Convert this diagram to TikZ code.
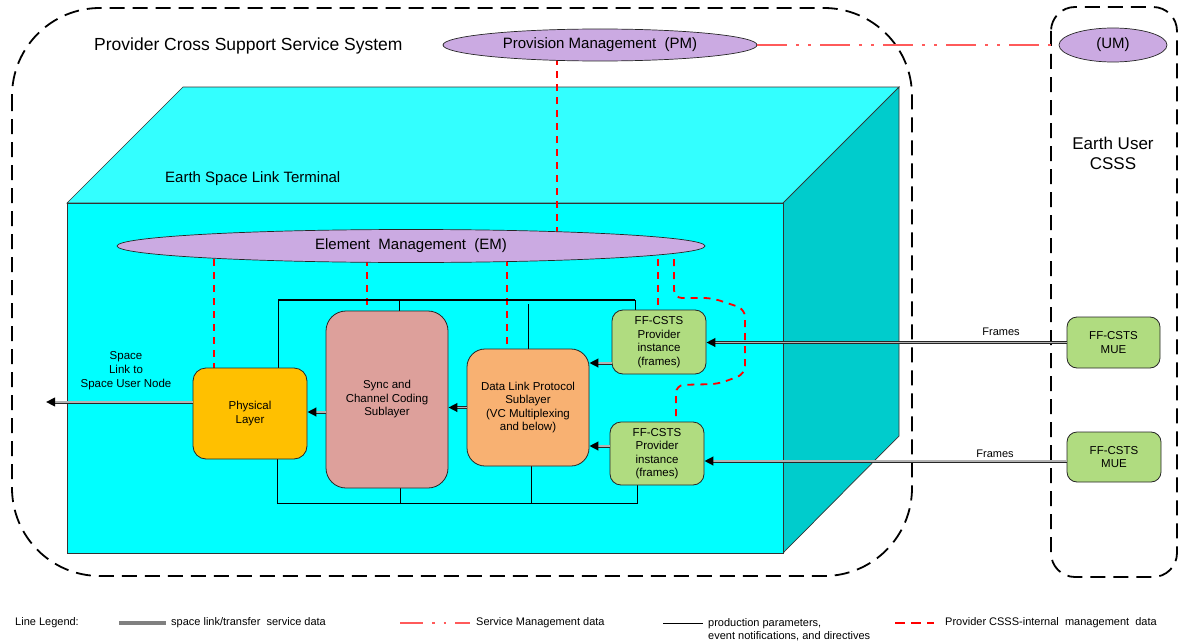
\documentclass[tikz,border=0pt]{standalone}
\usepackage{fontspec}
\setmainfont{Liberation Sans}
\usetikzlibrary{shapes.geometric,arrows.meta,decorations.markings}
\pgfdeclarelayer{back}
\pgfdeclarelayer{wires}
\pgfsetlayers{back,wires,main}

\definecolor{lilac}{RGB}{203,170,226}
\definecolor{cubefront}{RGB}{0,255,255}
\definecolor{cubetop}{RGB}{51,255,255}
\definecolor{cubeside}{RGB}{0,204,204}
\definecolor{phyfill}{RGB}{255,192,0}
\definecolor{syncfill}{RGB}{221,160,155}
\definecolor{dlpfill}{RGB}{248,177,114}
\definecolor{csgreen}{RGB}{176,220,128}
\definecolor{smred}{RGB}{255,90,90}

\begin{document}
\begin{tikzpicture}[x=1pt,y=-1pt,
  font=\fontsize{11.5}{13.5}\selectfont,
  boundary/.style={draw=black, line width=1.8pt, dash pattern=on 15pt off 8pt, rounded corners=88pt},
  cubeedge/.style={draw=black!80, line width=0.7pt},
  ell/.style={ellipse, draw=black!85, line width=0.7pt, fill=lilac, inner sep=0pt, font=\fontsize{15}{18}\selectfont},
  blk/.style={draw=black!85, line width=0.8pt, align=center, inner sep=0pt, font=\fontsize{11.5}{13.5}\selectfont},
  data/.style={draw=black!85, line width=0.9pt, double=gray!60, double distance=1.2pt, shorten >=7pt,
    postaction={decorate, decoration={markings, mark=at position 1 with {\arrow[black]{Triangle[length=9pt,width=8.5pt]}}}}},
  mgmt/.style={draw=red, line width=1.8pt, dash pattern=on 7pt off 6pt},
  svcmgmt/.style={draw=smred, line width=2.6pt, dash pattern=on 30pt off 9pt on 3pt off 9pt on 3pt off 9pt},
  ctrl/.style={draw=black, line width=0.9pt},
  bus/.style={draw=black, line width=1.6pt},
  legend/.style={inner sep=0pt, font=\fontsize{11}{13}\selectfont},
  caption/.style={inner sep=0pt, align=center}
]
\useasboundingbox (0,0) rectangle (1180,642);

% system boundaries and the terminal cube
\begin{pgfonlayer}{back}
  \draw[boundary] (12,8) rectangle (912,576);
  \draw[boundary, rounded corners=24pt] (1051,7) rectangle (1177,577);
  \filldraw[cubeedge, fill=cubetop] (67,203) -- (183,87) -- (899,87) -- (783,203) -- cycle;
  \filldraw[cubeedge, fill=cubeside] (783,203) -- (899,87) -- (899,436) -- (783,553) -- cycle;
  \filldraw[cubeedge, fill=cubefront] (67,203) rectangle (783,553);
\end{pgfonlayer}

% titles
\node[caption, anchor=west, font=\fontsize{17.5}{20}\selectfont] (pcsss) at (94,46) {Provider Cross Support Service System};
\node[caption, anchor=west, font=\fontsize{15}{18}\selectfont] (eslt) at (165,179) {Earth Space Link Terminal};
\node[caption, font=\fontsize{17}{20}\selectfont] (eucsss) at (1113,153) {Earth User\\CSSS};

% management entities
\node[ell, minimum width=314pt, minimum height=32pt] (PM) at (600,45) {Provision Management\ \ (PM)};
\node[ell, minimum width=108pt, minimum height=34pt] (UM) at (1113,45) {(UM)};
\node[ell, minimum width=588pt, minimum height=33pt] (EM) at (411,246) {Element\ \ Management\ \ (EM)};

% functional blocks
\node[blk, fill=phyfill, rounded corners=13pt, minimum width=114pt, minimum height=91pt] (PHY) at (250,413.5) {Physical\\Layer};
\node[blk, fill=syncfill, rounded corners=20pt, minimum width=122pt, minimum height=177pt] (SYNC) at (387,399.5) {Sync and\\Channel Coding\\Sublayer};
\node[blk, fill=dlpfill, rounded corners=18pt, minimum width=122pt, minimum height=117pt] (DLP) at (528,407.5) {Data Link Protocol\\Sublayer\\(VC Multiplexing\\and below)};
\node[blk, fill=csgreen, rounded corners=11pt, minimum width=94pt, minimum height=64pt] (FF1) at (659,342) {FF-CSTS\\Provider\\instance\\(frames)};
\node[blk, fill=csgreen, rounded corners=11pt, minimum width=94pt, minimum height=63pt] (FF2) at (657,453.5) {FF-CSTS\\Provider\\instance\\(frames)};
\node[blk, fill=csgreen, rounded corners=10pt, minimum width=93pt, minimum height=51pt] (MUE1) at (1113.5,342.5) {FF-CSTS\\MUE};
\node[blk, fill=csgreen, rounded corners=10pt, minimum width=94pt, minimum height=50pt] (MUE2) at (1114,457) {FF-CSTS\\MUE};

% edge labels
\node[caption, font=\fontsize{11.5}{14}\selectfont] (sllbl) at (126,371) {Space\\Link to\\Space User Node};
\node[caption, font=\fontsize{11}{13}\selectfont] (fr1) at (1001,332) {Frames};
\node[caption, font=\fontsize{11}{13}\selectfont] (fr2) at (995,454) {Frames};

% management and control wiring, drawn beneath the blocks
\begin{pgfonlayer}{wires}
  \coordinate (m0) at (557,45);
  \draw[mgmt] (m0) -- (m0 |- EM.center);
  \coordinate (m1) at (214,246);
  \draw[mgmt] (m1) -- (m1 |- PHY.north);
  \coordinate (m2) at (367,246);
  \draw[mgmt] (m2) -- (m2 |- SYNC.north);
  \coordinate (m3) at (507,246);
  \draw[mgmt] (m3) -- (m3 |- DLP.north);
  \coordinate (m4) at (658,246);
  \draw[mgmt] (m4) -- (m4 |- FF1.north);
  \coordinate (m5) at (674,246);
  \coordinate (m6) at (676,385);
  \draw[mgmt, rounded corners=8pt] (m5) -- (674,298) -- (712,298) -- (745,309) -- (745,374) -- (718,384) -- (m6) -- (m6 |- FF2.north);

  % production parameters bus
  \coordinate (bTL) at (278,300);
  \coordinate (bTR) at (635,300);
  \draw[ctrl] (bTL |- PHY.north) -- (bTL);
  \draw[bus] (bTL) -- (bTR);
  \draw[ctrl] (bTR) -- (bTR |- FF1.north);
  \coordinate (tS) at (399,300);
  \draw[ctrl] (tS) -- (tS |- SYNC.north);
  \coordinate (tD) at (528,304);
  \draw[ctrl] (tD) -- (tD |- DLP.north);
  \coordinate (bBL) at (277,503);
  \coordinate (bBR) at (637,503);
  \draw[ctrl] (bBL |- PHY.south) -- (bBL) -- (bBR) -- (bBR |- FF2.south);
  \coordinate (uS) at (400,503);
  \draw[ctrl] (uS |- SYNC.south) -- (uS);
  \coordinate (uD) at (531,503);
  \draw[ctrl] (uD |- DLP.south) -- (uD);
\end{pgfonlayer}

% service management link
\draw[svcmgmt] (PM.east) -- (UM.west);

% data flow
\coordinate (sl) at (46,402);
\coordinate (p0) at ([yshift=11.5pt]PHY.west);
\draw[data] (p0) -- (sl);
\coordinate (s0) at ([yshift=-12.5pt]SYNC.west);
\draw[data] (s0) -- (s0 -| PHY.east);
\draw[data] (DLP.west) -- (DLP.west -| SYNC.east);
\coordinate (f1) at ([yshift=-21pt]FF1.west);
\draw[data] (f1) -- (f1 -| DLP.east);
\coordinate (f2) at ([yshift=7.5pt]FF2.west);
\draw[data] (f2) -- (f2 -| DLP.east);
\draw[data] (MUE1.west) -- (MUE1.west -| FF1.east);
\coordinate (u2) at ([yshift=-4pt]MUE2.west);
\draw[data] (u2) -- (u2 -| FF2.east);

% line legend
\node[legend, anchor=west] (lg0) at (15,623) {Line Legend:};
\draw[draw=gray, line width=3.5pt] (119,623) -- (166,623);
\node[legend, anchor=west] (lg1) at (171,623) {space link/transfer\ \ service data};
\draw[svcmgmt, dash pattern=on 23pt off 9pt on 2.5pt off 9pt on 2.5pt off 9pt] (400,623) -- (470,623);
\node[legend, anchor=west] (lg2) at (476,623) {Service Management data};
\draw[ctrl, line width=0.8pt] (663,623) -- (703,623);
\node[legend, anchor=west, align=left] (lg3) at (708,629.5) {production parameters,\\event notifications, and directives};
\draw[mgmt, line width=2pt, dash pattern=on 10pt off 6pt] (895,623) -- (934,623);
\node[legend, anchor=west] (lg4) at (945,623) {Provider CSSS-internal\ \ management\ \ data};
\end{tikzpicture}
\end{document}
